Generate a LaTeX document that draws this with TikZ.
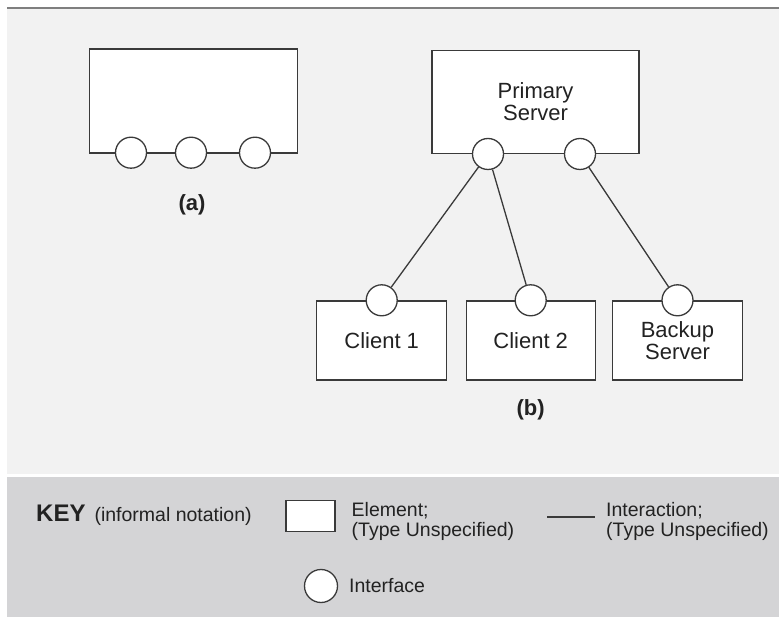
\documentclass[tikz,border=0pt]{standalone}
\usepackage{fontspec}
\setmainfont{Liberation Sans}
\usepackage{tikz}
\usetikzlibrary{positioning}
\tikzset{
  elem/.style={draw=edge, line width=1.4pt, fill=white, inner sep=0pt, align=center,
    font=\fontsize{22}{22}\selectfont, text=ink},
  iface/.style={draw=edge, line width=1.3pt, fill=white, circle, inner sep=0pt, minimum size=31pt},
  link/.style={draw=edge, line width=1.3pt},
  keytxt/.style={font=\fontsize{19.5}{20}\selectfont, text=ink, inner sep=0pt, align=left},
  tag/.style={font=\bfseries\fontsize{22}{22}\selectfont, text=ink},
}
\definecolor{panel}{HTML}{F2F2F2}
\definecolor{keybg}{HTML}{D4D4D6}
\definecolor{edge}{HTML}{3A3A3A}
\definecolor{ink}{HTML}{222222}
\definecolor{rule}{HTML}{7F7F7F}

\begin{document}
\begin{tikzpicture}[x=1pt, y=-1pt]
  \useasboundingbox (0,0) rectangle (779,617);
  % background areas
  \fill[panel] (7,9) rectangle (779,474);
  \fill[keybg] (7,477) rectangle (779,617);
  \draw[rule, line width=2pt] (7,8) -- (779,8);

  % (a) element with three interfaces
  \node[elem, minimum width=208pt, minimum height=104pt] (elA) at (193.3,101) {};
  \node[iface] (ifA1) at (131,152.7) {};
  \node[iface] (ifA2) at (191,152.7) {};
  \node[iface] (ifA3) at (255,152.7) {};
  \node[tag] (capA) at (192,205) {(a)};

  % (b) client/server
  \node[elem, minimum width=207pt, minimum height=103pt] (prim) at (535.5,102) {Primary\\Server};
  \node[iface] (ifP1) at (488,154) {};
  \node[iface] (ifP2) at (580,154) {};
  \node[elem, minimum width=130pt, minimum height=79pt] (cli1) at (381.7,340.5) {Client 1};
  \node[elem, minimum width=129pt, minimum height=79pt] (cli2) at (530.7,340.5) {Client 2};
  \node[elem, minimum width=130pt, minimum height=79pt] (bkup) at (677.5,340.5) {Backup\\Server};
  \node[iface] (ifC1) at (cli1.north) {};
  \node[iface] (ifC2) at (cli2.north) {};
  \node[iface] (ifB) at (bkup.north) {};
  \draw[link] (ifP1) -- (ifC1);
  \draw[link] (ifP1) -- (ifC2);
  \draw[link] (ifP2) -- (ifB);
  \node[tag] (capB) at (530.7,410) {(b)};

  % key
  \node[anchor=base west, inner sep=0pt, text=ink] (key) at (36,521.5)
    {{\bfseries\fontsize{24}{24}\selectfont KEY}\hspace{9pt}{\fontsize{19.5}{20}\selectfont(informal notation)}};
  \node[elem, line width=1.3pt, minimum width=49pt, minimum height=30.5pt] (keyEl) at (310.5,516) {};
  \node[keytxt, anchor=west] (keyElT) at (351.5,521) {Element;\\(Type Unspecified)};
  \coordinate (keyL1) at (547,517);
  \coordinate (keyL2) at (595,517);
  \draw[link] (keyL1) -- (keyL2);
  \node[keytxt, anchor=west] (keyLnT) at (606,521) {Interaction;\\(Type Unspecified)};
  \node[iface, minimum size=33pt] (keyIf) at (321,586) {};
  \node[keytxt, anchor=west] (keyIfT) at (349,586) {Interface};
\end{tikzpicture}
\end{document}
